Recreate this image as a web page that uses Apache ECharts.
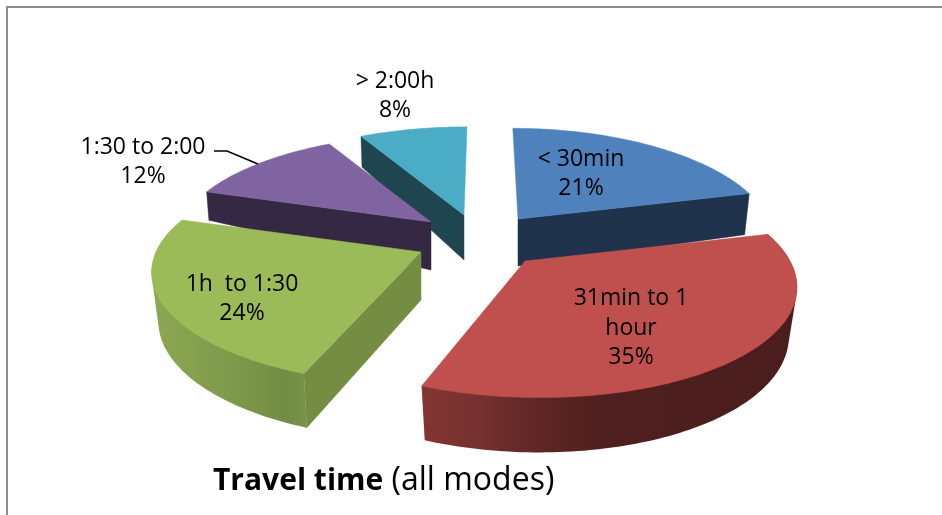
<!DOCTYPE html>
<html><head><meta charset="utf-8">
<style>html,body{margin:0;padding:0;background:#fff}#c{width:942px;height:515px}</style>
<script src="https://cdn.jsdelivr.net/npm/echarts@6/dist/echarts.min.js"></script>
</head><body><div id="c"></div>
<script>
// --- data ---
const categories = ['< 30min', '31min to 1\nhour', '1h  to 1:30', '1:30 to 2:00', '> 2:00h'];
const values = [21, 35, 24, 12, 8];
const titleBold = 'Travel time';
const titleRest = ' (all modes)';

// --- per-slice projection of the exploded, tilted 3D pie (layout only) ---
const layout = [
  {ax:518,ay:219,rx:251,ry:107,k:.057,p:.18,dy:47,sx:.98,sy:1.23,z:30,top:'#4f81bd',cutAt:'end',cutFill:'#1f334c',lx:581,ly:174},
  {ax:525,ay:261,rx:265,ry:112,k:.11, p:.18,dy:48,sx:.97,sy:1.05,z:50,top:'#c0504d',rim:'red',lx:631,ly:328},
  {ax:421,ay:252,rx:265,ry:109,k:0,   p:.18,dy:48,sx:.975,sy:1.05,z:40,top:'#9bbb59',cutAt:'start',cutFill:'#748d43',rim:'green',lx:242,ly:299},
  {ax:431,ay:222,rx:250,ry:103,k:-.03,p:.18,dy:48,sx:.99,sy:1.65,z:20,top:'#8064a2',cutAt:'start',cutFill:'#342843',lx:143,ly:162},
  {ax:464,ay:215,rx:254,ry:104,k:-.034,p:.18,dy:45,sx:.99,sy:1.18,z:10,top:'#4bacc6',cutAt:'start',cutFill:'#1f4650',lx:395,ly:96}
];
const rimFills = {
  red:{type:'linear',global:true,x:423,y:0,x2:796,y2:0,colorStops:[
    {offset:0,color:'#843432'},{offset:.16,color:'#743030'},{offset:.3,color:'#5f2725'},{offset:.5,color:'#4d1f1e'},{offset:1,color:'#4b1e1e'}]},
  green:{type:'linear',global:true,x:152,y:0,x2:308,y2:0,colorStops:[
    {offset:0,color:'#8ca852'},{offset:.5,color:'#7f9a4b'},{offset:.85,color:'#738c43'},{offset:1,color:'#789248'}]}
};

const total = values.reduce((a, b) => a + b, 0);
const starts = [];
values.reduce((acc, v, i) => { starts[i] = acc; return acc + v; }, 0);
const rad = v => v / total * Math.PI * 2;

function project(l, th, bottom) {
  const s = Math.sin(th), c = Math.cos(th), f = 1 / (1 + l.p * c);
  const y0 = -l.ry * c * f, x0 = l.rx * s * f + l.k * y0;
  if (!bottom) return [l.ax + x0, l.ay + y0];
  return [l.ax + x0 * l.sx, l.ay + l.dy + y0 * l.sy];
}
function rimPts(l, a0, a1, bottom) {
  const pts = [], n = Math.max(4, Math.ceil((a1 - a0) / 0.02));
  for (let i = 0; i <= n; i++) pts.push(project(l, a0 + (a1 - a0) * i / n, bottom));
  return pts;
}
// outline of the wall swept between the top and bottom rims; the top face hides its inner part
function hull(points) {
  const p = points.slice().sort((a, b) => a[0] - b[0] || a[1] - b[1]);
  const cross = (o, a, b) => (a[0] - o[0]) * (b[1] - o[1]) - (a[1] - o[1]) * (b[0] - o[0]);
  const half = list => {
    const h = [];
    list.forEach(q => {
      while (h.length > 1 && cross(h[h.length - 2], h[h.length - 1], q) <= 0) h.pop();
      h.push(q);
    });
    h.pop();
    return h;
  };
  return half(p).concat(half(p.slice().reverse()));
}

function renderItem(params) {
  const i = params.dataIndex, l = layout[i];
  const a0 = rad(starts[i]), a1 = rad(starts[i] + values[i]);
  const kids = [];
  const apexT = [l.ax, l.ay], apexB = [l.ax, l.ay + l.dy];
  if (l.cutAt) {
    const a = l.cutAt === 'end' ? a1 : a0;
    kids.push({type:'polygon', z2:l.z, shape:{points:[apexT, project(l,a,false), project(l,a,true), apexB]},
      style:{fill:l.cutFill, stroke:l.cutFill, lineWidth:.5}});
  }
  if (l.rim) {
    const t = rimPts(l, a0, a1, false), b = rimPts(l, a0, a1, true);
    kids.push({type:'polygon', z2:l.z + 1, shape:{points:hull(t.concat(b))}, style:{fill:rimFills[l.rim]}});
  }
  kids.push({type:'polygon', z2:l.z + 2, shape:{points:[apexT].concat(rimPts(l, a0, a1, false))},
    style:{fill:l.top, stroke:l.top, lineWidth:.5}});
  kids.push({type:'text', z2:100, style:{
    x:l.lx, y:l.ly, text:categories[i] + '\n' + values[i] + '%',
    align:'center', verticalAlign:'middle', fill:'#000', lineHeight:29.5,
    font:'23px "Open Sans"'}});
  return {type:'group', children:kids};
}

const chart = echarts.init(document.getElementById('c'), null, {renderer:'canvas'});
chart.setOption({
  animation:false,
  backgroundColor:'#fff',
  title:{
    text:'{b|' + titleBold + '}{r|' + titleRest + '}', left:208, top:460,
    textStyle:{fontWeight:'normal',rich:{
      b:{fontFamily:'Open Sans',fontSize:30,fontWeight:'bold',color:'#000'},
      r:{fontFamily:'Open Sans',fontSize:32,fontWeight:'normal',color:'#000'}}}
  },
  graphic:[
    {type:'polyline', silent:true, shape:{points:[[7,516],[7,7],[943,7]]}, style:{fill:null,stroke:'#8c8c8c',lineWidth:2}},
    {type:'polyline', silent:true, z:5, shape:{points:[[214,151],[227,151],[258,164]]}, style:{fill:null,stroke:'#000',lineWidth:1.5}}
  ],
  series:[{type:'custom', coordinateSystem:'none', silent:true, clip:false,
    renderItem, data:values.map(v => [v])}]
});
</script></body></html>
